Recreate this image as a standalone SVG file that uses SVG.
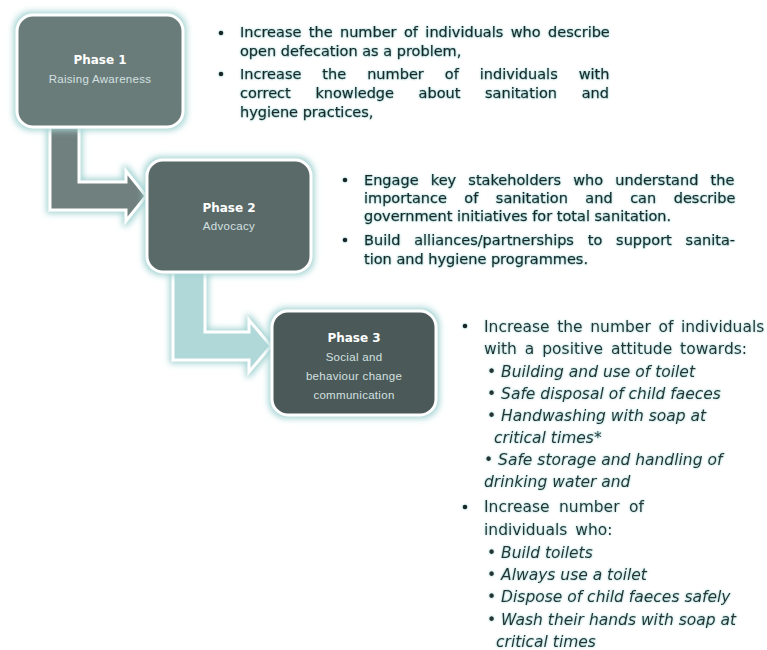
<svg xmlns="http://www.w3.org/2000/svg" width="767" height="650" viewBox="0 0 767 650">
<defs>
<filter id="glow" x="-20%" y="-20%" width="140%" height="140%">
<feMorphology in="SourceAlpha" operator="dilate" radius="2" result="d"/>
<feGaussianBlur in="d" stdDeviation="3" result="b"/>
<feFlood flood-color="#a3d3d3"/>
<feComposite in2="b" operator="in" result="g"/>
<feMerge><feMergeNode in="g"/><feMergeNode in="SourceGraphic"/></feMerge>
</filter>
<filter id="tglow" x="-5%" y="-30%" width="110%" height="160%">
<feGaussianBlur in="SourceAlpha" stdDeviation="0.9" result="b"/>
<feFlood flood-color="#4fb0b0" flood-opacity="0.7"/>
<feComposite in2="b" operator="in" result="g"/>
<feMerge><feMergeNode in="g"/><feMergeNode in="SourceGraphic"/></feMerge>
</filter>
<style>
.box{stroke:#ffffff;stroke-width:3}
.arr{stroke:#ffffff;stroke-width:3;stroke-linejoin:miter}
.pt{font-family:"DejaVu Sans","Liberation Sans",sans-serif;font-weight:bold;font-size:12px;fill:#ffffff;text-anchor:middle}
.ps{font-family:"Liberation Sans",sans-serif;font-size:11.5px;fill:#d3e0e0;text-anchor:middle;letter-spacing:0.3px}
.b1{font-family:"DejaVu Sans","Liberation Sans",sans-serif;font-size:14.5px;fill:#1c2626;stroke:#1c2626;stroke-width:0.25}
.b2{font-family:"DejaVu Sans","Liberation Sans",sans-serif;font-size:15.5px;fill:#2a3333}
.it{font-style:italic}
.dot{fill:#1c2626}
</style>
</defs>
<g id="connectors" filter="url(#glow)">
<polygon class="arr" fill="#6f807e" points="50,127 79,127 79,182 126,182 126,171 146,196 126,221 126,210 50,210"/>
<polygon class="arr" fill="#b1d8d8" points="173,272 205,272 205,332 249,332 249,320 271,346 249,372 249,360 173,360"/>
</g>
<g id="phase1">
<rect class="box" x="17" y="15" width="166" height="112" rx="16" fill="#6a7c7a" filter="url(#glow)"/>
<text class="pt" x="100" y="64">Phase 1</text>
<text class="ps" x="100" y="83">Raising Awareness</text>
</g>
<g id="phase2">
<rect class="box" x="147" y="160" width="164" height="112" rx="16" fill="#5a6a69" filter="url(#glow)"/>
<text class="pt" x="229" y="212">Phase 2</text>
<text class="ps" x="229" y="230">Advocacy</text>
</g>
<g id="phase3">
<rect class="box" x="272" y="311" width="164" height="104" rx="16" fill="#4b5a59" filter="url(#glow)"/>
<text class="pt" x="354" y="342">Phase 3</text>
<text class="ps" x="354" y="361">Social and</text>
<text class="ps" x="354" y="380">behaviour change</text>
<text class="ps" x="354" y="399">communication</text>
</g>
<g id="text1" filter="url(#tglow)">
<circle class="dot" cx="221" cy="33" r="2.3"/>
<circle class="dot" cx="221" cy="74" r="2.3"/>
<text class="b1" x="240" y="37" word-spacing="2.8">Increase the number of individuals who describe</text>
<text class="b1" x="240" y="56">open defecation as a problem,</text>
<text class="b1" x="240" y="79" word-spacing="16.4">Increase the number of individuals with</text>
<text class="b1" x="240" y="98" word-spacing="20">correct knowledge about sanitation and</text>
<text class="b1" x="240" y="117">hygiene practices,</text>
</g>
<g id="text2" filter="url(#tglow)">
<circle class="dot" cx="345" cy="180" r="2.3"/>
<circle class="dot" cx="345" cy="240" r="2.3"/>
<text class="b1" x="364" y="185" word-spacing="7.6">Engage key stakeholders who understand the</text>
<text class="b1" x="364" y="203" word-spacing="12.9">importance of sanitation and can describe</text>
<text class="b1" x="364" y="221">government initiatives for total sanitation.</text>
<text class="b1" x="364" y="245" word-spacing="9.2">Build alliances/partnerships to support sanita-</text>
<text class="b1" x="364" y="264">tion and hygiene programmes.</text>
</g>
<g id="text3" filter="url(#tglow)">
<circle class="dot" cx="465" cy="326" r="2.3"/>
<circle class="dot" cx="465" cy="507" r="2.3"/>
<text class="b2" x="484" y="332" word-spacing="2.7">Increase the number of individuals</text>
<text class="b2" x="484" y="354" word-spacing="3">with a positive attitude towards:</text>
<text class="b2 it" x="487" y="377">• Building and use of toilet</text>
<text class="b2 it" x="487" y="399">• Safe disposal of child faeces</text>
<text class="b2 it" x="487" y="421">• Handwashing with soap at</text>
<text class="b2 it" x="494" y="443">critical times*</text>
<text class="b2 it" x="484" y="465">• Safe storage and handling of</text>
<text class="b2 it" x="484" y="487">drinking water and</text>
<text class="b2" x="484" y="512" word-spacing="4.5">Increase number of</text>
<text class="b2" x="484" y="535" word-spacing="3">individuals who:</text>
<text class="b2 it" x="487" y="558">• Build toilets</text>
<text class="b2 it" x="487" y="580">• Always use a toilet</text>
<text class="b2 it" x="487" y="602">• Dispose of child faeces safely</text>
<text class="b2 it" x="487" y="625">• Wash their hands with soap at</text>
<text class="b2 it" x="496" y="647">critical times</text>
</g>
</svg>
